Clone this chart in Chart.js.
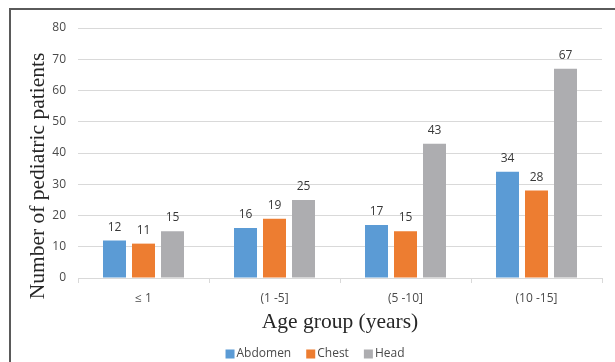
<!DOCTYPE html>
<html>
<head>
<meta charset="utf-8">
<script src="https://cdn.jsdelivr.net/npm/chart.js@4/dist/chart.umd.min.js"></script>
<style>
  html, body { margin: 0; padding: 0; background: #ffffff; }
  #wrap { position: relative; width: 615px; height: 362px; }
</style>
</head>
<body>
<div id="wrap"><canvas id="chart" width="615" height="362"></canvas></div>
<script>
// Age groups and patient counts per scanned body region
const categories = ['≤ 1', '(1 -5]', '(5 -10]', '(10 -15]'];
const abdomen = [12, 16, 17, 34];
const chest = [11, 19, 15, 28];
const head = [15, 25, 43, 67];
const seriesNames = ['Abdomen', 'Chest', 'Head'];
const seriesColors = ['#5B9BD5', '#ED7D31', '#ADADB0'];
const yMin = 0, yMax = 80, yStep = 10;

const yTitle = 'Number of pediatric patients';
const xTitle = 'Age group (years)';

const SANS = '"Open Sans", "Liberation Sans", sans-serif';
const SERIF = '"Liberation Serif", "DejaVu Serif", serif';
const TEXT = '#4a4a4a';

// Frame lines along the top and left edge
const framePlugin = {
  id: 'frame',
  beforeDraw(chart) {
    const ctx = chart.ctx;
    ctx.save();
    ctx.fillStyle = '#ffffff';
    ctx.fillRect(0, 0, chart.width, chart.height);
    ctx.strokeStyle = '#5a5a5a';
    ctx.lineWidth = 2;
    ctx.beginPath();
    ctx.moveTo(chart.width, 9);
    ctx.lineTo(10, 9);
    ctx.lineTo(10, chart.height);
    ctx.stroke();
    ctx.restore();
  }
};

// Value labels above each bar
const valueLabels = {
  id: 'valueLabels',
  afterDatasetsDraw(chart) {
    const ctx = chart.ctx;
    ctx.save();
    ctx.font = '12px ' + SANS;
    ctx.fillStyle = '#383838';
    ctx.textAlign = 'center';
    ctx.textBaseline = 'alphabetic';
    chart.data.datasets.forEach((ds, i) => {
      chart.getDatasetMeta(i).data.forEach((bar, j) => {
        ctx.fillText(String(ds.data[j]), bar.x, bar.y - 10);
      });
    });
    ctx.restore();
  }
};

// Vertical axis title and the legend row
const extras = {
  id: 'extras',
  afterDraw(chart) {
    const ctx = chart.ctx;
    ctx.save();
    ctx.font = '21.5px ' + SERIF;
    ctx.fillStyle = '#262626';
    ctx.textAlign = 'center';
    ctx.textBaseline = 'middle';
    ctx.translate(38, 176);
    ctx.rotate(-Math.PI / 2);
    ctx.fillText(yTitle, 0, 0);
    ctx.restore();

    ctx.save();
    ctx.font = '12px ' + SANS;
    const box = 9, gap = 2, spacing = 15;
    const items = chart.data.datasets.map(ds => ({
      label: ds.label, color: ds.backgroundColor,
      w: box + gap + ctx.measureText(ds.label).width
    }));
    const total = items.reduce((s, it) => s + it.w, 0) + spacing * (items.length - 1);
    let x = 315 - total / 2;
    const cy = 354;
    ctx.textBaseline = 'middle';
    ctx.textAlign = 'left';
    items.forEach(it => {
      ctx.fillStyle = it.color;
      ctx.fillRect(x, cy - box / 2, box, box);
      ctx.fillStyle = TEXT;
      ctx.fillText(it.label, x + box + gap, cy);
      x += it.w + spacing;
    });
    ctx.restore();
  }
};

const seriesData = [abdomen, chest, head];

new Chart(document.getElementById('chart'), {
  type: 'bar',
  data: {
    labels: categories,
    datasets: seriesData.map((d, i) => ({
      label: seriesNames[i],
      data: d,
      backgroundColor: seriesColors[i],
      borderWidth: 0,
      categoryPercentage: 0.664,
      barPercentage: 0.793
    }))
  },
  options: {
    responsive: false,
    animation: false,
    devicePixelRatio: 1,
    layout: { padding: { left: 11, right: 13, top: 28, bottom: 24 } },
    plugins: {
      legend: { display: false },
      tooltip: { enabled: false }
    },
    scales: {
      x: {
        afterFit(scale) { scale.height = 60; },
        grid: {
          offset: true,
          drawOnChartArea: false,
          drawTicks: true,
          tickLength: 5,
          color: '#D9D9D9',
          lineWidth: 1
        },
        border: { display: true, color: '#D9D9D9', width: 1 },
        ticks: {
          font: { family: SANS, size: 12 },
          color: TEXT,
          padding: 8,
          maxRotation: 0
        },
        title: {
          display: true,
          text: xTitle,
          font: { family: SERIF, size: 21.5 },
          color: '#262626',
          padding: { top: 0, bottom: 3 }
        }
      },
      y: {
        min: yMin,
        max: yMax,
        afterFit(scale) { scale.width = 67; },
        grid: { color: '#D9D9D9', lineWidth: 1, drawTicks: false },
        border: { display: false },
        ticks: {
          stepSize: yStep,
          font: { family: SANS, size: 12 },
          color: TEXT,
          padding: 12
        }
      }
    }
  },
  plugins: [framePlugin, valueLabels, extras]
});
</script>
</body>
</html>
